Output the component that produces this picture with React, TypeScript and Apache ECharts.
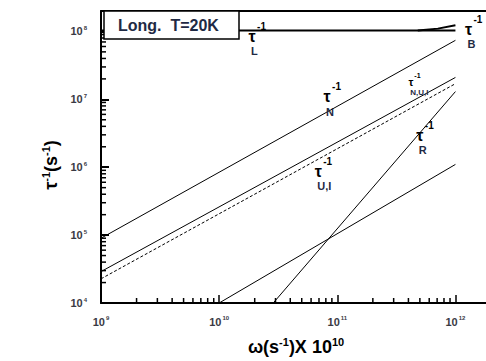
import React, { useEffect, useRef } from "react";
import * as echarts from "echarts";

// ---- data ----
const xMin = 1e9;
const xMax = 2e12;
const yMin = 1e4;
const yMax = 2e8;

const tauL = [[1e9, 1.03e8], [1e12, 1.03e8]];
const tauB = [[4.8e11, 1.03e8], [7.1e11, 1.1e8], [1e12, 1.23e8]];
const tauN = [[1e9, 9.0e4], [1e12, 7.4e7]];
const tauUI = [[1e9, 2.9e4], [1e12, 2.1e7]];
const tauNUI = [[1e9, 2.27e4], [1e12, 1.7e7]];
const tauR = [[2.87e10, 1e4], [1e12, 1.3e7]];
const tauLow = [[1e10, 1e4], [1e12, 1.1e6]];

const xMinorTicks = [
  2e9, 3e9, 4e9, 5e9, 6e9, 7e9, 8e9, 9e9,
  2e10, 3e10, 4e10, 5e10, 6e10, 7e10, 8e10, 9e10,
  2e11, 3e11, 4e11, 5e11, 6e11, 7e11, 8e11, 9e11,
];
const yMinorTicks = [
  2e4, 3e4, 4e4, 5e4, 6e4, 7e4, 8e4, 9e4,
  2e5, 3e5, 4e5, 5e5, 6e5, 7e5, 8e5, 9e5,
  2e6, 3e6, 4e6, 5e6, 6e6, 7e6, 8e6, 9e6,
  2e7, 3e7, 4e7, 5e7, 6e7, 7e7, 8e7, 9e7,
];

const curveLabels = [
  { sub: "L", x: 1.9e10, y: 8.5e7, size: 16 },
  { sub: "B", x: 1.29e12, y: 1.07e8, size: 16 },
  { sub: "N", x: 8.2e10, y: 1.1e7, size: 16 },
  { sub: "N,U,I", x: 4.2e11, y: 1.8e7, size: 11 },
  { sub: "U,I", x: 6.9e10, y: 8.7e5, size: 16 },
  { sub: "R", x: 5.0e11, y: 2.96e6, size: 16 },
];

const FONT = "'Liberation Sans', Arial, sans-serif";

const tickFormatter = (v: number) => {
  const e = Math.round(Math.log10(v));
  return `{b|10}{s|${e}}`;
};

const tickRich = {
  b: { fontSize: 11, fontWeight: "bold", color: "#3a3a44", fontFamily: FONT },
  s: { fontSize: 6, fontWeight: "bold", color: "#3a3a44", fontFamily: FONT, padding: [0, 0, 7, 1] },
};

const nameRich = {
  t: { fontSize: 18, fontWeight: "bold", color: "#000", fontFamily: FONT },
  x: { fontSize: 18, fontWeight: "bold", color: "#000", fontFamily: FONT },
  sup: { fontSize: 11, fontWeight: "bold", color: "#000", fontFamily: FONT, padding: [0, 0, 10, 0] },
};

const lineSeries = (name: string, data: number[][], width = 1, type: any = "solid") => ({
  name,
  type: "line",
  data,
  symbol: "none",
  silent: true,
  lineStyle: { color: "#000", width, type },
});

export default function App() {
  const ref = useRef<HTMLDivElement>(null);
  useEffect(() => {
    if (!ref.current) return;
    const chart = echarts.init(ref.current, undefined, { renderer: "svg" });
    const option: any = {
      animation: false,
      backgroundColor: "#fff",
      grid: { left: 101, right: -5, top: 11, bottom: 58, outerBoundsMode: "none", containLabel: false },
      xAxis: [
        {
          type: "log",
          logBase: 10,
          min: xMin,
          max: xMax,
          axisLine: { lineStyle: { color: "#000", width: 2 } },
          axisTick: { show: true, inside: true, length: 8, lineStyle: { color: "#000", width: 1.5 } },
          splitLine: { show: false },
          axisLabel: { formatter: tickFormatter, rich: tickRich, margin: 12, showMaxLabel: false },
          name: "{x|ω(s}{sup|-1}{x|)X 10}{sup|10}",
          nameLocation: "middle",
          nameGap: 33,
          nameTextStyle: { rich: nameRich },
        },
        {
          type: "log",
          logBase: 10,
          min: xMin,
          max: xMax,
          position: "top",
          axisLine: { lineStyle: { color: "#000", width: 2 } },
          axisTick: { show: false },
          axisLabel: { show: false },
          splitLine: { show: false },
        },
      ],
      yAxis: [
        {
          type: "log",
          logBase: 10,
          min: yMin,
          max: yMax,
          axisLine: { lineStyle: { color: "#000", width: 2 } },
          axisTick: { show: true, inside: true, length: 8, lineStyle: { color: "#000", width: 2 } },
          splitLine: { show: false },
          axisLabel: { formatter: tickFormatter, rich: tickRich, margin: 14, showMaxLabel: false },
          name: "{t|τ}{sup|-1}{t|(s}{sup|-1}{t|)}",
          nameLocation: "middle",
          nameGap: 40,
          nameRotate: 90,
          nameTextStyle: { rich: nameRich, padding: [0, 16, 0, 0] },
        },
        {
          type: "log",
          logBase: 10,
          min: yMin,
          max: yMax,
          position: "right",
          axisLine: { lineStyle: { color: "#000", width: 2 } },
          axisTick: { show: false },
          axisLabel: { show: false },
          splitLine: { show: false },
        },
      ],
      series: [
        lineSeries("tauL", tauL, 2),
        lineSeries("tauB", tauB, 2),
        lineSeries("tauN", tauN),
        lineSeries("tauUI", tauUI),
        lineSeries("tauNUI", tauNUI, 1, [3, 2]),
        lineSeries("tauR", tauR),
        lineSeries("tauLow", tauLow),
      ],
    };
    chart.setOption(option);

    const graphics: any[] = [];
    // minor ticks, placed through the axes' scales
    xMinorTicks.forEach((v) => {
      const p = chart.convertToPixel({ gridIndex: 0 }, [v, yMin]) as number[];
      graphics.push({
        type: "line",
        shape: { x1: p[0], y1: p[1], x2: p[0], y2: p[1] - 5 },
        style: { stroke: "#000", lineWidth: 1.5 },
        z: 5,
      });
    });
    yMinorTicks.forEach((v) => {
      const p = chart.convertToPixel({ gridIndex: 0 }, [xMin, v]) as number[];
      graphics.push({
        type: "line",
        shape: { x1: p[0], y1: p[1], x2: p[0] + 5, y2: p[1] },
        style: { stroke: "#000", lineWidth: 1.5 },
        z: 5,
      });
    });
    // legend-like box
    graphics.push({
      type: "rect",
      shape: { x: 104, y: 11, width: 135, height: 28 },
      style: { fill: "#fff", stroke: "#000", lineWidth: 1.5 },
      z: 10,
    });
    graphics.push({
      type: "text",
      x: 118,
      y: 25,
      style: {
        text: "Long.  T=20K",
        font: `bold 16px ${FONT}`,
        fill: "#1f2a44",
        verticalAlign: "middle",
      },
      z: 11,
    });
    curveLabels.forEach((l) => {
      const p = chart.convertToPixel({ gridIndex: 0 }, [l.x, l.y]) as number[];
      const s = l.size;
      const k = s / 16;
      graphics.push({
        type: "text",
        x: p[0],
        y: p[1],
        style: { text: "τ", font: `bold ${s}px ${FONT}`, fill: "#000", align: "center", verticalAlign: "middle" },
        z: 12,
      });
      graphics.push({
        type: "text",
        x: p[0] + 5 * k,
        y: p[1] - 10 * k,
        style: { text: "-1", font: `bold ${Math.round(10 * k)}px ${FONT}`, fill: "#000", align: "left", verticalAlign: "middle" },
        z: 12,
      });
      graphics.push({
        type: "text",
        x: p[0] - 1 * k,
        y: p[1] + 15 * k,
        style: { text: l.sub, font: `bold ${Math.round(11 * k)}px ${FONT}`, fill: "#1f2a44", align: "left", verticalAlign: "middle" },
        z: 12,
      });
    });
    chart.setOption({ graphic: graphics });

    return () => chart.dispose();
  }, []);
  return (
    <div
      ref={ref}
      style={{ position: "fixed", left: 0, top: 0, width: 486, height: 361, background: "#fff" }}
    />
  );
}
